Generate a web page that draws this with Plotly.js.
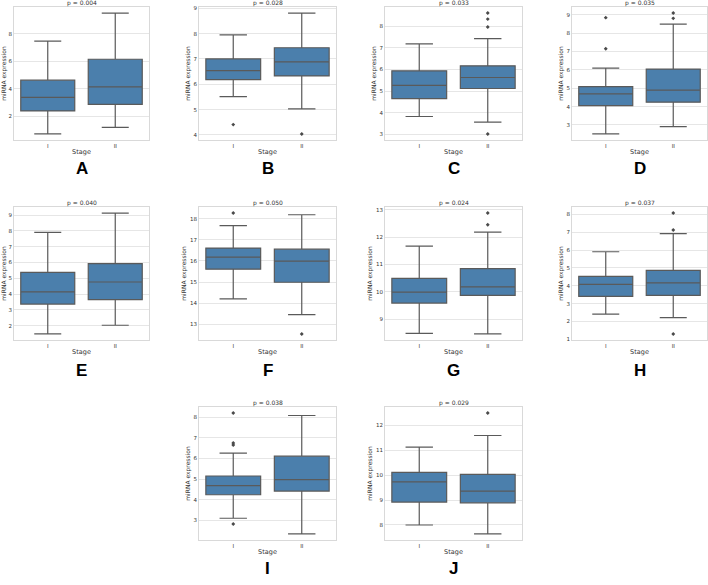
<!DOCTYPE html>
<html>
<head>
<meta charset="utf-8">
<script src="https://cdn.plot.ly/plotly-3.0.1.min.js"></script>
<style>html,body{margin:0;padding:0;background:#fff;}#chart{width:708px;height:585px;}</style>
</head>
<body>
<div id="chart"></div>
<script>
// ---- data ----
const panels = ['A','B','C','D','E','F','G','H','I','J'];
const pValues = ['0.004','0.028','0.033','0.035','0.040','0.050','0.024','0.037','0.038','0.029'];
const stages = ['I','II'];
const lowerWhisker = [[0.73,1.20],[5.51,5.03],[3.82,3.56],[2.51,2.91],[1.47,2.02],[14.20,13.46],[8.48,8.46],[2.41,2.22],[3.10,2.34],[8.00,7.64]];
const q1Values     = [[2.40,2.88],[6.18,6.33],[4.65,5.12],[4.05,4.24],[3.36,3.64],[15.61,14.99],[9.59,9.87],[3.41,3.46],[4.24,4.42],[8.92,8.89]];
const medianValues = [[3.39,4.15],[6.54,6.88],[5.26,5.63],[4.69,4.89],[4.13,4.76],[16.18,15.99],[9.99,10.18],[4.08,4.16],[4.68,4.97],[9.73,9.36]];
const q3Values     = [[4.63,6.15],[7.00,7.44],[5.94,6.17],[5.09,6.04],[5.37,5.93],[16.61,16.56],[10.49,10.85],[4.53,4.87],[5.15,6.11],[10.11,10.03]];
const upperWhisker = [[7.47,9.50],[7.95,8.81],[7.19,7.43],[6.09,8.49],[7.90,9.13],[17.67,18.19],[11.67,12.18],[5.91,6.93],[6.26,8.08],[11.12,11.59]];
const outliersStageI  = [[],[4.41],[],[7.15,8.84],[],[18.27],[],[],[2.82,6.65,6.75,8.20],[]];
const outliersStageII = [[],[4.04],[8.62,8.34,7.97,3.01],[8.80,9.09],[],[12.54],[12.45,12.88],[7.13,8.08,1.30],[],[12.49]];
const yTickStep = [2,1,1,1,1,1,1,1,1,1];

// ---- layout geometry (pixels) ----
const W = 708, H = 585;
const colX = [[14,149],[199,336],[385,522],[572,707]];
const rowY = [[7,140],[207,340],[407,540]];
const letterY = [169,370,568];
const cell = [[0,0],[0,1],[0,2],[0,3],[1,0],[1,1],[1,2],[1,3],[2,1],[2,2]];

const boxFill = '#4b7fac';
const lineCol = '#5a5a5a';
const textCol = '#333333';
const fontFam = 'DejaVu Sans, sans-serif';

const data = [];
const layout = {
  width: W, height: H,
  margin: {l:0, r:0, t:0, b:0},
  paper_bgcolor: '#ffffff', plot_bgcolor: '#ffffff',
  showlegend: false,
  font: {family: fontFam, color: textCol, size: 5.5},
  annotations: []
};

panels.forEach((p, i) => {
  const k = i + 1;
  const xa = 'x' + k, ya = 'y' + k;
  const [r, c] = cell[i];
  const xd = [colX[c][0] / W, colX[c][1] / W];
  const yd = [1 - rowY[r][1] / H, 1 - rowY[r][0] / H];

  data.push({
    type: 'box', x: stages,
    q1: q1Values[i], median: medianValues[i], q3: q3Values[i],
    lowerfence: lowerWhisker[i], upperfence: upperWhisker[i],
    xaxis: xa, yaxis: ya,
    fillcolor: boxFill, line: {color: lineCol, width: 1.2},
    width: 0.8, whiskerwidth: 0.5, boxpoints: false, hoverinfo: 'skip'
  });
  const ox = [], oy = [];
  outliersStageI[i].forEach(v => { ox.push('I'); oy.push(v); });
  outliersStageII[i].forEach(v => { ox.push('II'); oy.push(v); });
  if (ox.length) {
    data.push({
      type: 'scatter', mode: 'markers', x: ox, y: oy, xaxis: xa, yaxis: ya,
      marker: {symbol: 'diamond', size: 3, color: '#4a4a4a'}, hoverinfo: 'skip'
    });
  }

  const all = lowerWhisker[i].concat(upperWhisker[i], outliersStageI[i], outliersStageII[i]);
  const mn = Math.min(...all), mx = Math.max(...all), pad = 0.05 * (mx - mn);

  const axX = i === 0 ? 'xaxis' : 'xaxis' + k;
  const axY = i === 0 ? 'yaxis' : 'yaxis' + k;
  layout[axX] = {
    domain: xd, anchor: ya, type: 'category', range: [-0.5, 1.5],
    showgrid: false, zeroline: false, showline: true, mirror: true,
    linecolor: '#d9d9d9', linewidth: 1, ticks: '',
    tickfont: {size: 5.5, color: textCol, family: fontFam},
    title: {text: 'Stage', font: {size: 6.5, color: textCol, family: fontFam}, standoff: 1},
    fixedrange: true
  };
  layout[axY] = {
    domain: yd, anchor: xa, range: [mn - pad, mx + pad],
    dtick: yTickStep[i], tick0: 0,
    showgrid: true, gridcolor: '#e6e6e6', gridwidth: 1, zeroline: false,
    showline: true, mirror: true, linecolor: '#d9d9d9', linewidth: 1, ticks: '',
    tickfont: {size: 5.5, color: textCol, family: fontFam},
    title: {text: 'miRNA expression', font: {size: 6, color: textCol, family: fontFam}, standoff: 2},
    fixedrange: true
  };

  layout.annotations.push({
    xref: 'paper', yref: 'paper', x: (xd[0] + xd[1]) / 2, y: 1 - (rowY[r][0] - 3.7) / H,
    xanchor: 'center', yanchor: 'middle', showarrow: false, borderpad: 0,
    text: 'p = ' + pValues[i], font: {size: 6, color: textCol, family: fontFam}
  });
  layout.annotations.push({
    xref: 'paper', yref: 'paper', x: (xd[0] + xd[1]) / 2, y: 1 - letterY[r] / H,
    xanchor: 'center', yanchor: 'middle', showarrow: false, borderpad: 0,
    text: '<b>' + p + '</b>', font: {size: 17, color: '#000000', family: 'Liberation Sans, Arial, sans-serif'}
  });
});

Plotly.newPlot('chart', data, layout, {staticPlot: true, displayModeBar: false});
</script>
</body>
</html>
